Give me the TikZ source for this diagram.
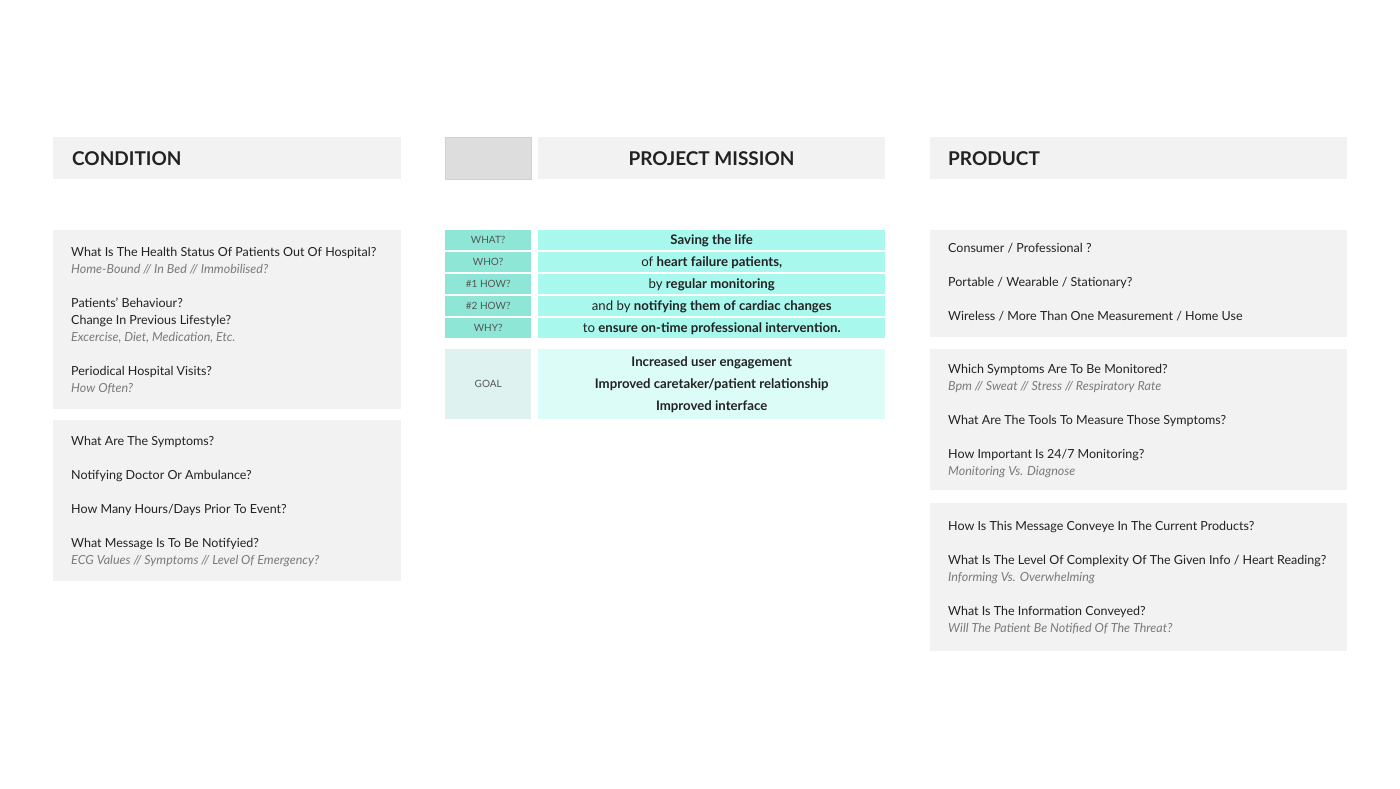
\documentclass[tikz,border=0pt]{standalone}
\usepackage{fontspec}
\setmainfont{Lato}
\usetikzlibrary{positioning}

\definecolor{panelgray}{HTML}{F2F2F2}
\definecolor{tabgray}{HTML}{DDDDDD}
\definecolor{inkdark}{HTML}{222222}
\definecolor{hintgray}{HTML}{7A7A7A}
\definecolor{labelgray}{HTML}{555555}
\definecolor{tealdark}{HTML}{8EE6D6}
\definecolor{teallight}{HTML}{A8F8EE}
\definecolor{goaldark}{HTML}{DEF2EF}
\definecolor{goallight}{HTML}{DCFCF8}

\newcommand\hint[1]{{\color{hintgray}\itshape #1}}

\begin{document}
\begin{tikzpicture}[x=1pt, y=-1pt,
  panel/.style={fill=panelgray, inner sep=0, anchor=north west},
  head/.style={anchor=base west, inner sep=0, text=inkdark,
    font=\fontsize{19}{22}\selectfont\bfseries},
  body/.style={anchor=base west, inner sep=0, align=flush left, text width=390,
    text=inkdark, font=\fontsize{12.5}{17}\selectfont},
  cell/.style={anchor=north west, inner sep=0, minimum height=20},
  tag/.style={cell, fill=tealdark, minimum width=86, text=labelgray,
    text height=7.2, text depth=0, font=\fontsize{10}{11}\selectfont},
  line/.style={cell, fill=teallight, minimum width=347, text=inkdark,
    text height=9.4, text depth=0, font=\fontsize{13.2}{15}\selectfont}]

  \useasboundingbox (0,0) rectangle (1400,788);
  \fill[white] (0,0) rectangle (1400,788);

  % condition column
  \node [panel, minimum width=348, minimum height=42] (condhead) at (53,137) {};
  \node [head] (condtitle) at (72,165) {CONDITION};

  \node [panel, minimum width=348, minimum height=179] (cond1) at (53,230) {};
  \node [body] (cond1txt) at (71,256) {What Is The Health Status Of Patients Out Of Hospital?\\
    \hint{Home-Bound // In Bed // Immobilised?}\\[17pt]
    Patients’ Behaviour?\\
    Change In Previous Lifestyle?\\
    \hint{Excercise, Diet, Medication, Etc.}\\[17pt]
    Periodical Hospital Visits?\\
    \hint{How Often?}};

  \node [panel, minimum width=348, minimum height=161] (cond2) at (53,420) {};
  \node [body] (cond2txt) at (71,445) {What Are The Symptoms?\\[17pt]
    Notifying Doctor Or Ambulance?\\[17pt]
    How Many Hours/Days Prior To Event?\\[17pt]
    What Message Is To Be Notifyied?\\
    \hint{ECG Values // Symptoms // Level Of Emergency?}};

  % mission column
  \node [panel, fill=tabgray, draw=black!18, minimum width=86, minimum height=42] (misstab) at (445,137) {};
  \node [panel, minimum width=347, minimum height=42] (misshead) at (538,137) {};
  \node [head, anchor=base] (misstitle) at (711.5,165) {PROJECT MISSION};

  \node [tag] (what) at (445,230) {WHAT?};
  \node [line] (whatline) at (538,230) {\textbf{Saving the life}};
  \node [tag] (who) at (445,252) {WHO?};
  \node [line] (wholine) at (538,252) {of \textbf{heart failure patients,}};
  \node [tag] (howa) at (445,274) {\#1 HOW?};
  \node [line] (howaline) at (538,274) {by \textbf{regular monitoring}};
  \node [tag] (howb) at (445,296) {\#2 HOW?};
  \node [line] (howbline) at (538,296) {and by \textbf{notifying them of cardiac changes}};
  \node [tag] (why) at (445,318) {WHY?};
  \node [line] (whyline) at (538,318) {to \textbf{ensure on-time professional intervention.}};

  \node [tag, fill=goaldark, minimum height=70] (goal) at (445,349) {GOAL};
  \node [line, fill=goallight, minimum height=70, align=center,
    text height=, text depth=, font=\fontsize{13.2}{22}\selectfont\bfseries]
    (goalline) at (538,349)
    {Increased user engagement\\Improved caretaker/patient relationship\\Improved interface};

  % product column
  \node [panel, minimum width=417, minimum height=42] (prodhead) at (930,137) {};
  \node [head] (prodtitle) at (948,165) {PRODUCT};

  \node [panel, minimum width=417, minimum height=107] (prod1) at (930,230) {};
  \node [body] (prod1txt) at (948,252) {Consumer / Professional ?\\[17pt]
    Portable / Wearable / Stationary?\\[17pt]
    Wireless / More Than One Measurement / Home Use};

  \node [panel, minimum width=417, minimum height=141] (prod2) at (930,349) {};
  \node [body] (prod2txt) at (948,373) {Which Symptoms Are To Be Monitored?\\
    \hint{Bpm // Sweat // Stress // Respiratory Rate}\\[17pt]
    What Are The Tools To Measure Those Symptoms?\\[17pt]
    How Important Is 24/7 Monitoring?\\
    \hint{Monitoring Vs. Diagnose}};

  \node [panel, minimum width=417, minimum height=148] (prod3) at (930,503) {};
  \node [body] (prod3txt) at (948,530) {How Is This Message Conveye In The Current Products?\\[17pt]
    What Is The Level Of Complexity Of The Given Info / Heart Reading?\\
    \hint{Informing Vs. Overwhelming}\\[17pt]
    What Is The Information Conveyed?\\
    \hint{Will The Patient Be Notified Of The Threat?}};
\end{tikzpicture}
\end{document}
